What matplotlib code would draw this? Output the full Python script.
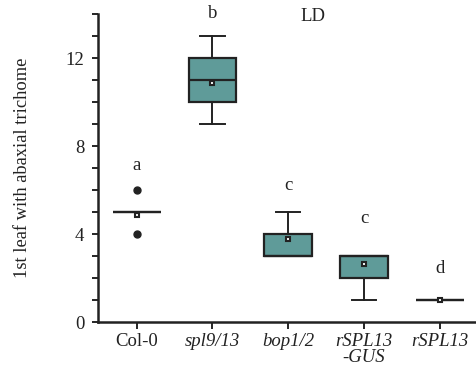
import matplotlib
matplotlib.use("Agg")
import matplotlib.pyplot as plt

# genotypes and box statistics
genotypes = ["Col-0", "spl9/13", "bop1/2", "rSPL13\n-GUS", "rSPL13"]
italic = [False, True, True, True, True]
q1 = [5, 10, 3, 2, 1]
medians = [5, 11, 3, 3, 1]
q3 = [5, 12, 4, 3, 1]
whisker_low = [5, 9, 3, 1, 1]
whisker_high = [5, 13, 5, 3, 1]
means = [4.85, 10.85, 3.79, 2.64, 1.0]
outliers = [[4, 6], [], [], [], []]
letters = ["a", "b", "c", "c", "d"]
letter_y = [6.9, 13.8, 6.0, 4.5, 2.25]

plt.rcParams["font.family"] = ["Liberation Serif", "DejaVu Serif"]
ink = "#222222"

fig = plt.figure(figsize=(4.77, 3.71), dpi=100)
ax = fig.add_axes([0.2055, 0.132, 0.7945, 0.83])

stats = []
for i in range(len(genotypes)):
    stats.append({"med": medians[i], "q1": q1[i], "q3": q3[i],
                  "whislo": whisker_low[i], "whishi": whisker_high[i],
                  "mean": means[i], "fliers": outliers[i], "label": genotypes[i]})

ax.bxp(stats, positions=range(len(genotypes)), widths=0.63, patch_artist=True,
       showmeans=True,
       boxprops=dict(facecolor="#5f9b99", edgecolor=ink, linewidth=1.6),
       medianprops=dict(color=ink, linewidth=1.6),
       whiskerprops=dict(color=ink, linewidth=1.4),
       capprops=dict(color=ink, linewidth=1.4),
       capwidths=0.32,
       meanprops=dict(marker="s", markersize=3.5, markerfacecolor="white",
                      markeredgecolor=ink, markeredgewidth=1.5),
       flierprops=dict(marker="o", markersize=5, markerfacecolor=ink,
                       markeredgecolor=ink))

for i, (lab, y) in enumerate(zip(letters, letter_y)):
    ax.text(i, y, lab, ha="center", va="baseline", fontsize=13.5, color=ink,
            clip_on=False)
ax.text(2.32, 13.7, "LD", ha="center", va="baseline", fontsize=13.5, color=ink,
        clip_on=False)

ax.set_xlim(-0.51, 4.49)
ax.set_ylim(0, 14)
ax.set_yticks([0, 4, 8, 12])
ax.set_yticks(range(15), minor=True)
ax.set_xticks(range(len(genotypes)))
ax.set_xticklabels(genotypes, fontsize=13.5, linespacing=0.95, color=ink)
for t, it in zip(ax.get_xticklabels(), italic):
    if it:
        t.set_fontstyle("italic")
ax.tick_params(axis="y", labelsize=13.5, labelcolor=ink, length=4, width=1.2, pad=6)
ax.tick_params(axis="y", which="minor", length=4, width=1.2)
ax.tick_params(axis="x", length=5, width=1.2, pad=3)
ax.set_ylabel("1st leaf with abaxial trichome", fontsize=13.3, color=ink,
              labelpad=25)

for s in ["top", "right"]:
    ax.spines[s].set_visible(False)
for s in ["left", "bottom"]:
    ax.spines[s].set_linewidth(1.8)
    ax.spines[s].set_color(ink)

fig.savefig("out.png", dpi=100)
